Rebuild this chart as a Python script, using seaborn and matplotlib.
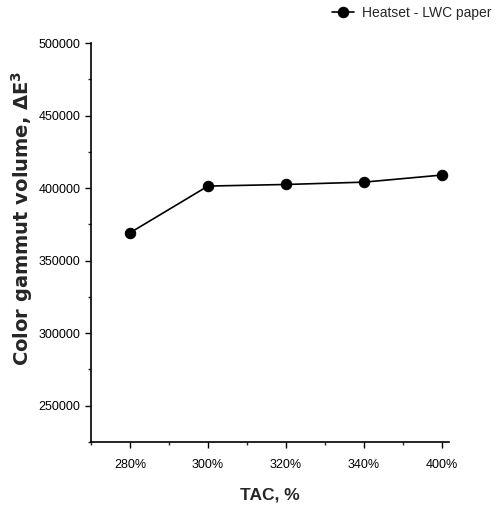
import matplotlib
matplotlib.use("Agg")
import matplotlib.pyplot as plt
from matplotlib.ticker import MultipleLocator
import seaborn as sns
import pandas as pd

# data
tac = ["280%", "300%", "320%", "340%", "400%"]
volume = [369200, 401400, 402500, 404100, 409000]
series_name = "Heatset - LWC paper"

df = pd.DataFrame({"TAC": tac, "volume": volume})
df["pos"] = range(len(tac))

sns.set_style("ticks")
plt.rcParams["font.family"] = ["Liberation Sans", "DejaVu Sans"]
plt.rcParams["mathtext.fontset"] = "custom"
plt.rcParams["mathtext.rm"] = "DejaVu Sans"
plt.rcParams["mathtext.bf"] = "DejaVu Sans:bold"

fig = plt.figure(figsize=(4.96, 5.09), dpi=100)
ax = fig.add_axes([0.1835, 0.1316, 0.7215, 0.7839])

sns.lineplot(data=df, x="pos", y="volume", marker="o", color="black",
             markersize=7.5, linewidth=1.2, markeredgecolor="black",
             label=series_name, ax=ax)

ax.set_xlim(-0.5, 4.09)
ax.set_ylim(225000, 500000)
ax.set_xticks(range(len(tac)))
ax.set_xticklabels(tac)
ax.xaxis.set_minor_locator(MultipleLocator(0.5))
ax.yaxis.set_major_locator(MultipleLocator(50000))
ax.yaxis.set_minor_locator(MultipleLocator(25000))
ax.tick_params(axis="both", which="major", length=4, width=1, labelsize=9, colors="black")
ax.tick_params(axis="x", which="major", pad=8)
ax.tick_params(axis="both", which="minor", length=2.5, width=1)

for s in ["top", "right"]:
    ax.spines[s].set_visible(False)
for s in ["left", "bottom"]:
    ax.spines[s].set_color("black")
    ax.spines[s].set_linewidth(1.2)

ax.set_xlabel("TAC, %", fontsize=12.5, fontweight="bold")
ax.xaxis.set_label_coords(0.5, -0.115)
ax.set_ylabel("Color gammut volume, ΔE$^{\\mathbf{3}}$", fontsize=14, fontweight="bold",
              family="DejaVu Sans")
ax.yaxis.set_label_coords(-0.156, 0.561)

leg = ax.legend(loc="upper right", bbox_to_anchor=(1.135, 1.107), frameon=False,
                fontsize=10, handlelength=1.6, handletextpad=0.6, borderaxespad=0)

fig.savefig("out.png", dpi=100)
